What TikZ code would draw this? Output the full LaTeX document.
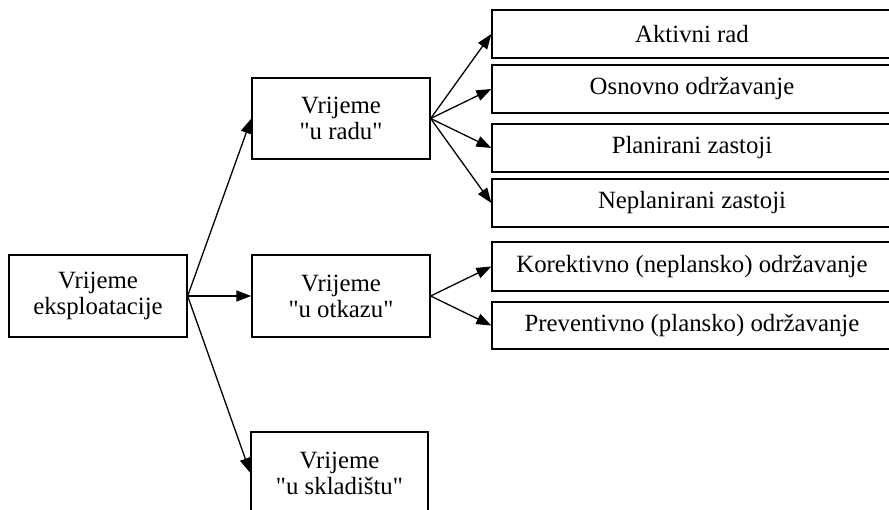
\documentclass[tikz,border=0pt]{standalone}
\usepackage{fontspec}
\setmainfont{Liberation Serif}[Ligatures=TeXOff]
\usetikzlibrary{arrows.meta}
\begin{document}
\begin{tikzpicture}[x=1pt,y=-1pt,
  box/.style={draw, line width=1.3pt, rectangle, inner sep=0pt, align=center,
    font=\fontsize{24.8}{26}\selectfont},
  lbox/.style={box, minimum width=178pt, minimum height=82pt},
  rbox/.style={box, minimum width=400pt, minimum height=48pt},
  arr/.style={line width=1.3pt, -{Triangle[length=15pt,width=11pt]}}]
\useasboundingbox (0,0) rectangle (889,510);
\clip (0,0) rectangle (889,510);
\node[lbox] (A) at (98,296) {Vrijeme\\eksploatacije};
\node[lbox, minimum height=81pt] (B) at (341,118.5) {Vrijeme\\"u radu"};
\node[lbox] (C) at (341,296) {Vrijeme\\"u otkazu"};
\node[lbox, minimum width=177pt] (D) at (339.5,473) {Vrijeme\\"u skladištu"};
\node[rbox] (R1) at (692,34) {Aktivni rad};
\node[rbox] (R2) at (692,89) {Osnovno održavanje};
\node[rbox] (R3) at (692,148) {Planirani zastoji};
\node[rbox] (R4) at (692,203) {Neplanirani zastoji};
\node[rbox, minimum height=49pt] (R5) at (692,266.5) {Korektivno (neplansko) održavanje};
\node[rbox, minimum height=47pt] (R6) at (692,325.5) {Preventivno (plansko) održavanje};
\draw[arr] (A.east) -- (B.west);
\draw[arr] (A.east) -- (C.west);
\draw[arr] (A.east) -- (D.west);
\draw[arr] (B.east) -- (R1.west);
\draw[arr] (B.east) -- (R2.west);
\draw[arr] (B.east) -- (R3.west);
\draw[arr] (B.east) -- (R4.west);
\draw[arr] (C.east) -- (R5.west);
\draw[arr] (C.east) -- (R6.west);
\end{tikzpicture}
\end{document}
